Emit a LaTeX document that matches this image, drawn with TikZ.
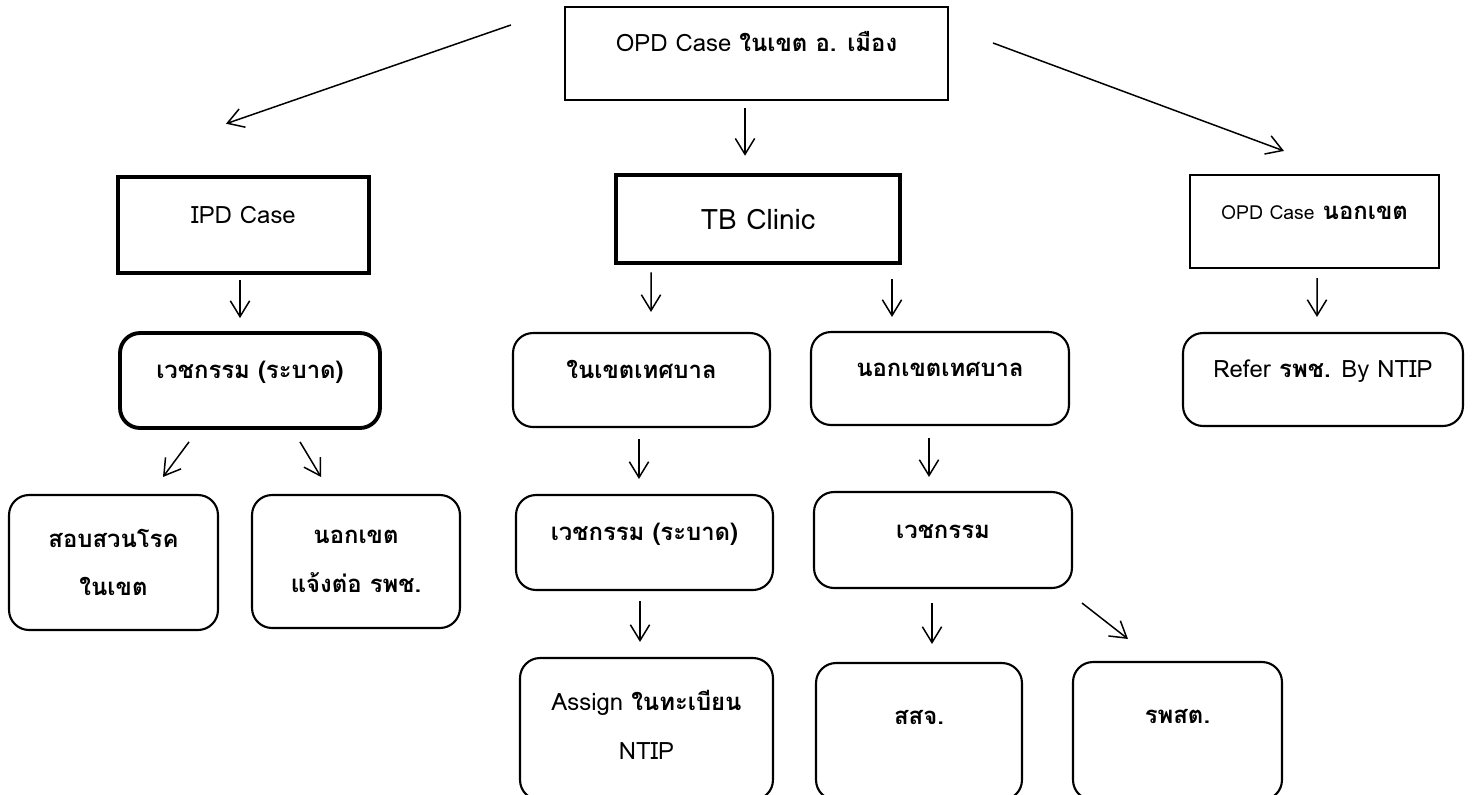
\documentclass[tikz,border=0pt]{standalone}
\usepackage{fontspec}
\setmainfont[Script=Thai]{Loma}
\usetikzlibrary{arrows.meta}

\tikzset{
  sqbox/.style={draw, line width=1.2pt, inner sep=0pt},
  thickbox/.style={sqbox, line width=2.6pt},
  rbox/.style={draw, line width=1.2pt, rounded corners=0.4cm, inner sep=0pt, align=center},
  lifted/.style={text height=8pt, text depth=10pt},
  highlift/.style={text height=8pt, text depth=16pt},
  arr/.style={-{Straight Barb[length=9pt,width=11pt]}, line width=0.85pt}
}

\begin{document}
\begin{tikzpicture}[x=0.02cm, y=-0.02cm, font=\fontsize{13.6}{27.8}\selectfont]
\useasboundingbox (0,0) rectangle (1472,795);
\clip (0,0) rectangle (1472,795);
\node[sqbox, lifted, minimum width=7.66cm, minimum height=1.86cm] (opd) at (756.5,53.5) {OPD Case \textbf{ในเขต อ. เมือง}};
\node[thickbox, lifted, minimum width=5.02cm, minimum height=1.92cm] (ipd) at (243.5,225) {IPD Case};
\node[thickbox, minimum width=5.68cm, minimum height=1.76cm, font=\fontsize{16}{18}\selectfont] (tb) at (758,219) {TB Clinic};
\node[sqbox, lifted, minimum width=4.98cm, minimum height=1.86cm] (opdout) at (1314.5,221.5) {{\fontsize{11}{12}\selectfont OPD Case} \textbf{นอกเขต}};
\node[rbox, lifted, line width=2.2pt, minimum width=5.2cm, minimum height=1.9cm] (vetl) at (250,380.5) {\textbf{เวชกรรม (ระบาด)}};
\node[rbox, lifted, minimum width=5.14cm, minimum height=1.88cm] (inmun) at (641.5,380) {\textbf{ในเขตเทศบาล}};
\node[rbox, lifted, minimum width=5.16cm, minimum height=1.86cm] (outmun) at (940,378.5) {\textbf{นอกเขตเทศบาล}};
\node[rbox, lifted, minimum width=5.6cm, minimum height=1.86cm] (refer) at (1323,379.5) {Refer \textbf{รพช.} By NTIP};
\node[rbox, minimum width=4.18cm, minimum height=2.7cm] (invest) at (113.5,562.5) {\textbf{สอบสวนโรค}\\\textbf{ในเขต}};
\node[rbox, minimum width=4.16cm, minimum height=2.66cm] (outzone) at (356,561.5) {\textbf{นอกเขต}\\\textbf{แจ้งต่อ รพช.}};
\node[rbox, lifted, minimum width=5.14cm, minimum height=1.9cm] (vetm) at (644.5,542.5) {\textbf{เวชกรรม (ระบาด)}};
\node[rbox, lifted, minimum width=5.16cm, minimum height=1.92cm] (vetr) at (943,540) {\textbf{เวชกรรม}};
\node[rbox, text depth=5pt, minimum width=5.06cm, minimum height=2.84cm] (assign) at (646.5,729) {Assign \textbf{ในทะเบียน}\\NTIP};
\node[rbox, highlift, minimum width=4.12cm, minimum height=2.74cm] (ssj) at (919,731.5) {\textbf{สสจ.}};
\node[rbox, highlift, minimum width=4.18cm, minimum height=2.76cm] (rpst) at (1177.5,731) {\textbf{รพสต.}};
\draw[arr] ([shift={(-53,19)}]opd.north west) -- ([shift={(-17.5,-51)}]ipd.north);
\draw[arr] ([shift={(44,-10.5)}]opd.east) -- ([shift={(-30.5,-23)}]opdout.north);
\draw[arr] ([shift={(-11.5,7)}]opd.south) -- ([shift={(-13,-17)}]tb.north);
\draw[arr] ([shift={(-3.5,5)}]ipd.south) -- ([shift={(-10,-13)}]vetl.north);
\draw[arr] ([shift={(-107,7)}]tb.south) -- ([shift={(9.5,-20)}]inmun.north);
\draw[arr] ([shift={(134,14)}]tb.south) -- ([shift={(-48,-14)}]outmun.north);
\draw[arr] ([shift={(2.5,9)}]opdout.south) -- ([shift={(-6,-15)}]refer.north);
\draw[arr] ([shift={(-61,12)}]vetl.south) -- ([shift={(49.5,-17)}]invest.north);
\draw[arr] ([shift={(50,12)}]vetl.south) -- ([shift={(-35,-17)}]outzone.north);
\draw[arr] ([shift={(-2.5,11)}]inmun.south) -- ([shift={(-5.5,-15)}]vetm.north);
\draw[arr] ([shift={(-11,12)}]outmun.south) -- ([shift={(-14,-14)}]vetr.north);
\draw[arr] ([shift={(-4.5,10)}]vetm.south) -- ([shift={(-6.5,-15)}]assign.north);
\draw[arr] ([shift={(-11,14)}]vetr.south) -- ([shift={(13,-18)}]ssj.north);
\draw[arr] ([shift={(9,14)}]vetr.south east) -- ([shift={(-49.5,-22)}]rpst.north);
\end{tikzpicture}
\end{document}
